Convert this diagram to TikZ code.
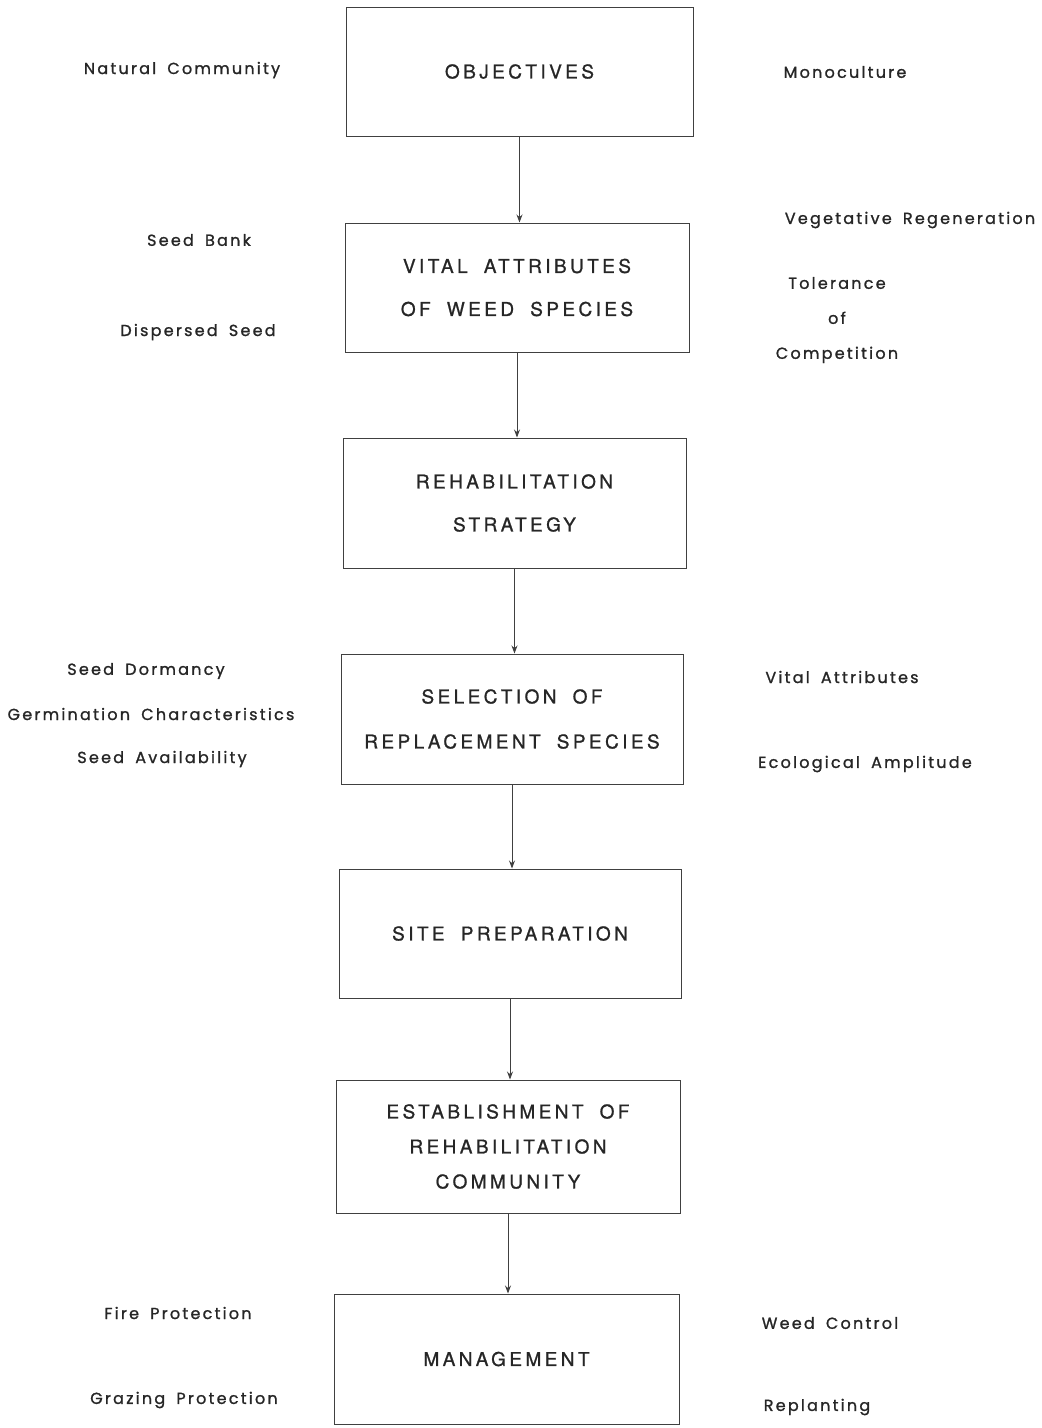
\documentclass[tikz,border=0pt]{standalone}
\usepackage{fontspec}
\usetikzlibrary{arrows.meta}
\newfontfamily\boxfont{TeX Gyre Heros}[LetterSpace=18,FakeBold=1.0]
\newfontfamily\labfont{Poppins}[LetterSpace=14,FakeBold=1.2]
\newcommand{\WS}{\hspace{0.85em}}
\newcommand{\LS}{\hspace{0.7em}}
\definecolor{ink}{gray}{0.25}
\definecolor{txt}{gray}{0.15}
\tikzset{
  stage/.style={draw=ink, line width=1pt, minimum width=#1, inner sep=0pt, align=center,
    text=txt, font=\boxfont\fontsize{19}{43}\selectfont},
  side/.style={inner sep=0pt, text=txt, font=\labfont\fontsize{16}{35}\selectfont, align=center},
  flow/.style={draw=ink, line width=1pt, -{Stealth[length=8pt,width=6pt]}}
}
\begin{document}
\begin{tikzpicture}[x=1pt,y=-1pt]
\useasboundingbox (0,0) rectangle (1042,1428);
% boxes
\node[stage=347pt, minimum height=129pt] (b1) at (519.5,71.5) {OBJECTIVES};
\node[stage=344pt, minimum height=129pt] (b2) at (517,287.5) {VITAL\WS ATTRIBUTES\\OF\WS WEED\WS SPECIES};
\node[stage=343pt, minimum height=130pt] (b3) at (514.5,503) {REHABILITATION\\STRATEGY};
\node[stage=342pt, minimum height=130pt] (b4) at (512,719) {SELECTION\WS OF\\[2pt]REPLACEMENT\WS SPECIES};
\node[stage=342pt, minimum height=129pt] (b5) at (510,933.5) {SITE\WS PREPARATION};
\node[stage=344pt, minimum height=133pt, font=\boxfont\fontsize{19}{35}\selectfont] (b6) at (508,1146.5) {ESTABLISHMENT\WS OF\\REHABILITATION\\COMMUNITY};
\node[stage=345pt, minimum height=130pt] (b7) at (506.5,1359) {MANAGEMENT};
% connectors
\draw[flow] (b1.south) -- (b1.south |- b2.north);
\draw[flow] (b2.south) -- (b2.south |- b3.north);
\draw[flow] (b3.south) -- (b3.south |- b4.north);
\draw[flow] (b4.south) -- (b4.south |- b5.north);
\draw[flow] (b5.south) -- (b5.south |- b6.north);
\draw[flow] (b6.south) -- (b6.south |- b7.north);
% side labels
\node[side] (l1) at (182,70) {Natural\LS Community};
\node[side] (r1) at (845,72) {Monoculture};
\node[side] (l2a) at (199,240) {Seed\LS Bank};
\node[side] (l2b) at (198,332) {Dispersed\LS Seed};
\node[side] (r2a) at (910,220) {Vegetative\LS Regeneration};
\node[side] (r2b) at (837,320) {Tolerance\\of\\Competition};
\node[side] (l4a) at (146,671) {Seed\LS Dormancy};
\node[side] (l4b) at (151,714) {Germination\LS Characteristics};
\node[side] (l4c) at (162,759) {Seed\LS Availability};
\node[side] (r4a) at (842,677) {Vital\LS Attributes};
\node[side] (r4b) at (865,764) {Ecological\LS Amplitude};
\node[side] (l7a) at (178,1313) {Fire\LS Protection};
\node[side] (l7b) at (184,1400) {Grazing\LS Protection};
\node[side] (r7a) at (830,1323) {Weed\LS Control};
\node[side] (r7b) at (817,1407) {Replanting};
\end{tikzpicture}
\end{document}
